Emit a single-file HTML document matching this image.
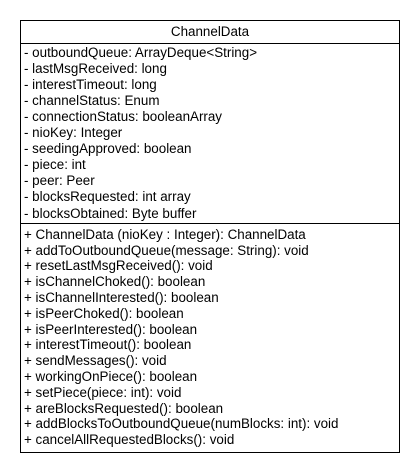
<!DOCTYPE html>
<html><head><style>
html,body{margin:0;padding:0;background:#fff;width:420px;height:470px;overflow:hidden}
.box{position:absolute;left:20px;top:20px;width:378px;height:431px;border:1px solid #000}
.hr{position:absolute;left:20px;width:380px;height:1px;background:#000}
.t{position:absolute;left:24px;font:13.4px "Liberation Sans",Arial,sans-serif;color:#000;white-space:pre;line-height:16px}
.title{position:absolute;left:20px;width:380px;text-align:center;top:24px;font:13.4px "Liberation Sans",Arial,sans-serif;line-height:16px}
</style></head><body>
<div class="box"></div>
<div class="title">ChannelData</div>
<div class="hr" style="top:43px"></div>
<div class="hr" style="top:223px"></div>
<div class="t" style="top:45px">- outboundQueue: ArrayDeque&lt;String&gt;</div>
<div class="t" style="top:61px">- lastMsgReceived: long</div>
<div class="t" style="top:77px">- interestTimeout: long</div>
<div class="t" style="top:93px">- channelStatus: Enum</div>
<div class="t" style="top:109px">- connectionStatus: booleanArray</div>
<div class="t" style="top:125px">- nioKey: Integer</div>
<div class="t" style="top:141px">- seedingApproved: boolean</div>
<div class="t" style="top:157px">- piece: int</div>
<div class="t" style="top:173px">- peer: Peer</div>
<div class="t" style="top:189px">- blocksRequested: int array</div>
<div class="t" style="top:206px">- blocksObtained: Byte buffer</div>
<div class="t" style="top:227px">+ ChannelData (nioKey : Integer): ChannelData</div>
<div class="t" style="top:243px">+ addToOutboundQueue(message: String): void</div>
<div class="t" style="top:258px">+ resetLastMsgReceived(): void</div>
<div class="t" style="top:274px">+ isChannelChoked(): boolean</div>
<div class="t" style="top:290px">+ isChannelInterested(): boolean</div>
<div class="t" style="top:306px">+ isPeerChoked(): boolean</div>
<div class="t" style="top:322px">+ isPeerInterested(): boolean</div>
<div class="t" style="top:337px">+ interestTimeout(): boolean</div>
<div class="t" style="top:353px">+ sendMessages(): void</div>
<div class="t" style="top:369px">+ workingOnPiece(): boolean</div>
<div class="t" style="top:385px">+ setPiece(piece: int): void</div>
<div class="t" style="top:401px">+ areBlocksRequested(): boolean</div>
<div class="t" style="top:416px">+ addBlocksToOutboundQueue(numBlocks: int): void</div>
<div class="t" style="top:432px">+ cancelAllRequestedBlocks(): void</div>
</body></html>
